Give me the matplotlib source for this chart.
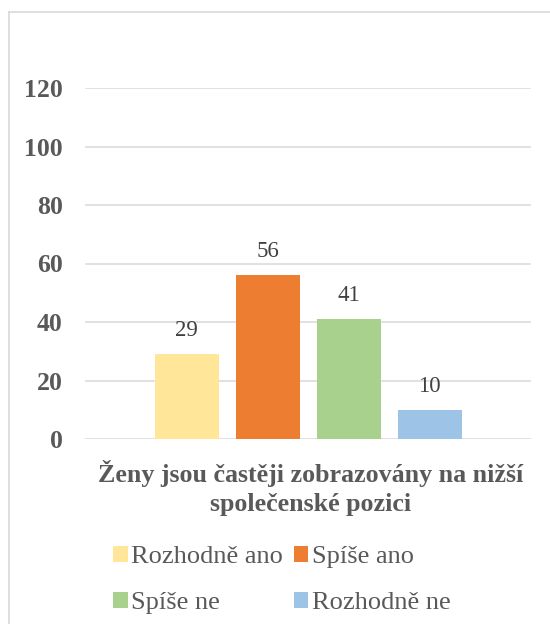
import matplotlib.pyplot as plt
from matplotlib.lines import Line2D
from matplotlib.font_manager import FontProperties

# data
category = "Ženy jsou častěji zobrazovány na nižší\nspolečenské pozici"
answers = ["Rozhodně ano", "Spíše ano", "Spíše ne", "Rozhodně ne"]
counts = [29, 56, 41, 10]
colors = ["#FFE699", "#ED7D31", "#A9D18E", "#9DC3E6"]
yticks = [0, 20, 40, 60, 80, 100, 120]

GRAY = "#595959"
plt.rcParams["font.family"] = ["Liberation Serif", "DejaVu Serif"]

fig = plt.figure(figsize=(5.5, 6.24), dpi=100)
ax = fig.add_axes([85 / 550, 1 - 439 / 624, 446 / 550, 351 / 624])

# bars grouped around one category
width = 64 / 446
step = 81 / 446
bars = []
for i, (name, val, c) in enumerate(zip(answers, counts, colors)):
    x = (i - 1.5) * step
    b = ax.bar(x, val, width=width, color=c, label=name, zorder=3)
    bars.append(b)
    ax.annotate(str(val), (x, val), xytext=(0, 17), textcoords="offset points",
                ha="center", va="center", fontsize=16.5, color="#404040")

ax.set_xlim(-0.5, 0.5)
ax.set_ylim(0, 120)
ax.set_yticks(yticks)
ax.set_yticklabels([str(v) for v in yticks], fontsize=18.5, fontweight="bold", color=GRAY)
ax.tick_params(axis="y", length=0, pad=16)
ax.set_xticks([])
ax.grid(axis="y", color="#d9d9d9", linewidth=1.1, zorder=0)
for s in ax.spines.values():
    s.set_visible(False)

fig.text(311 / 550, 1 - 488 / 624, category, ha="center", va="center",
         fontsize=18.7, fontweight="bold", color=GRAY, linespacing=1.3)

# legend: row order Rozhodně ano, Spíše ano / Spíše ne, Rozhodně ne
order = [0, 2, 1, 3]
prop = FontProperties(family="Liberation Serif", size=19)
leg = fig.legend([bars[i] for i in order], [answers[i] for i in order],
                 ncol=2, loc="upper left", bbox_to_anchor=(113 / 550, 1 - 546 / 624),
                 frameon=False, prop=prop, handlelength=0.55, handleheight=0.55,
                 handletextpad=0.15, columnspacing=0.4, labelspacing=0.9,
                 borderaxespad=0, borderpad=0)
for t in leg.get_texts():
    t.set_color(GRAY)

# chart frame (left and top edges visible)
fig.add_artist(Line2D([8.5 / 550, 8.5 / 550], [0, 1 - 12 / 624], color="#d9d9d9",
                      linewidth=1.2, transform=fig.transFigure))
fig.add_artist(Line2D([8.5 / 550, 1], [1 - 12 / 624, 1 - 12 / 624], color="#d9d9d9",
                      linewidth=1.2, transform=fig.transFigure))

fig.savefig("out.png", dpi=100)
